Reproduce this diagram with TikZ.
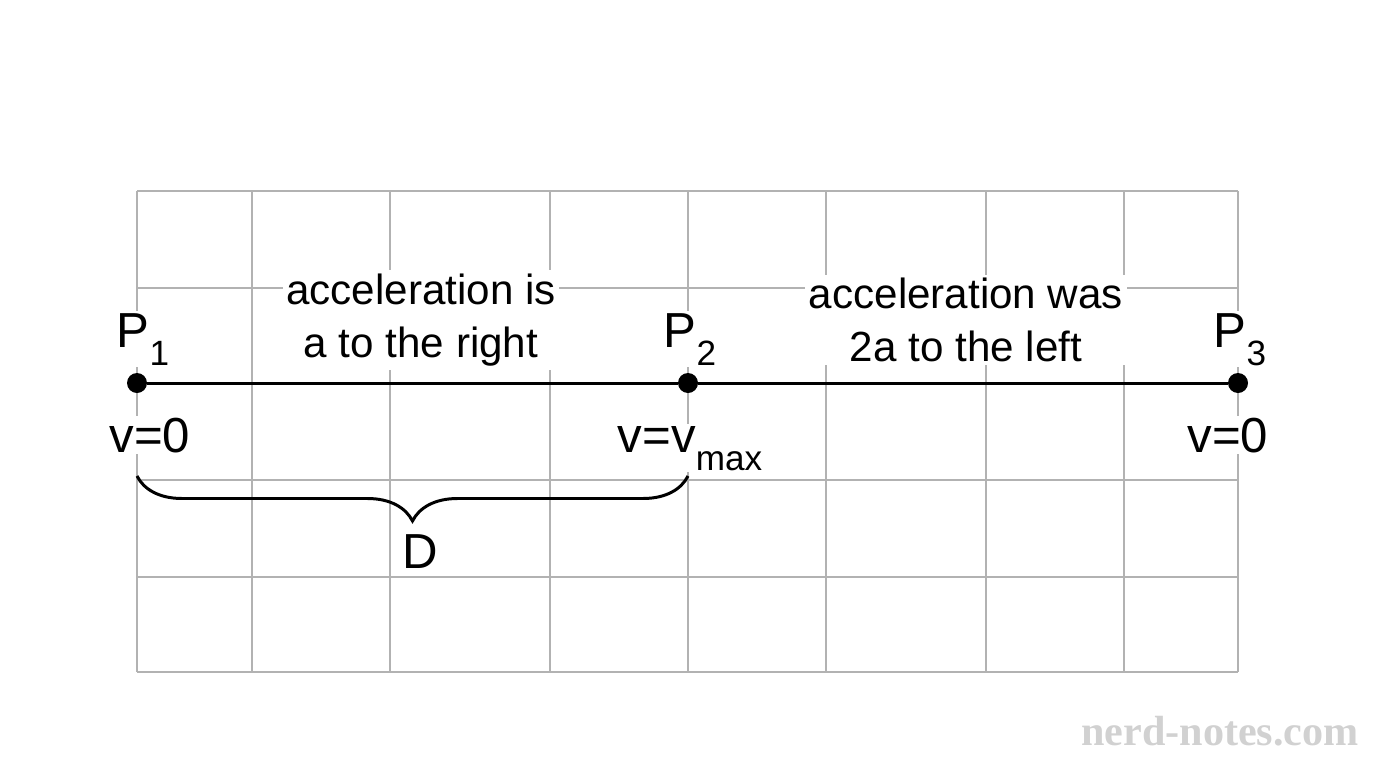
\documentclass[tikz,border=0pt]{standalone}
\usepackage{fontspec}
\setmainfont{Liberation Sans}
\newfontfamily\markfont{Liberation Serif}
\usetikzlibrary{positioning,decorations.pathreplacing}
\newcommand{\lowsub}[1]{\raisebox{-0.7ex}{\fontsize{20}{22}\selectfont #1}}
\begin{document}
\begin{tikzpicture}[
    x=0.02cm, y=-0.02cm,
    grid/.style={draw=black!30, line width=0.6pt},
    point/.style={circle, fill=black, inner sep=0pt, minimum size=0.4cm},
    plabel/.style={font=\fontsize{28}{30}\selectfont, inner sep=1pt, fill=white, anchor=base},
    note/.style={font=\fontsize{24}{30}\selectfont, align=center, fill=white, inner sep=2pt},
    track/.style={line width=1.7pt}
]
\useasboundingbox (0,0) rectangle (1376,768);

% Grid
\foreach \gx in {137,252,390,550,688,826,986,1124,1238}
  \draw[grid] (\gx,191) -- (\gx,672);
\foreach \gy in {191,288,383,480,577,672}
  \draw[grid] (137,\gy) -- (1238,\gy);

% Points and track
\node[point] (p1) at (137,383) {};
\node[point] (p2) at (688,383) {};
\node[point] (p3) at (1238,383) {};
\draw[track] (p1) -- (p2);
\draw[track] (p2) -- (p3);

% Labels
\node[plabel] (lp1) at (143,347) {P\lowsub{1}};
\node[plabel] (lp2) at (690,347) {P\lowsub{2}};
\node[plabel] (lp3) at (1240,347) {P\lowsub{3}};
\node[plabel] (v1) at (150,452) {v=0};
\node[plabel] (v2) at (690,452) {v=v\lowsub{max}};
\node[plabel] (v3) at (1228,452) {v=0};
\node[note] (acc1) at (421,320) {acceleration is\\a to the right};
\node[note] (acc2) at (966,320) {acceleration was\\2a to the left};

% Distance brace
\coordinate (b1) at (137,476);
\coordinate (b2) at (688,476);
\draw[line width=1.7pt, decoration={brace, mirror, amplitude=0.9cm}, decorate] (b1) -- (b2);
\node[plabel] (dist) at (420,568) {D};

% Watermark
\node[font=\markfont\bfseries\fontsize{24}{30}\selectfont, text=black!18] (mark) at (1220,731) {nerd-notes.com};
\end{tikzpicture}
\end{document}
